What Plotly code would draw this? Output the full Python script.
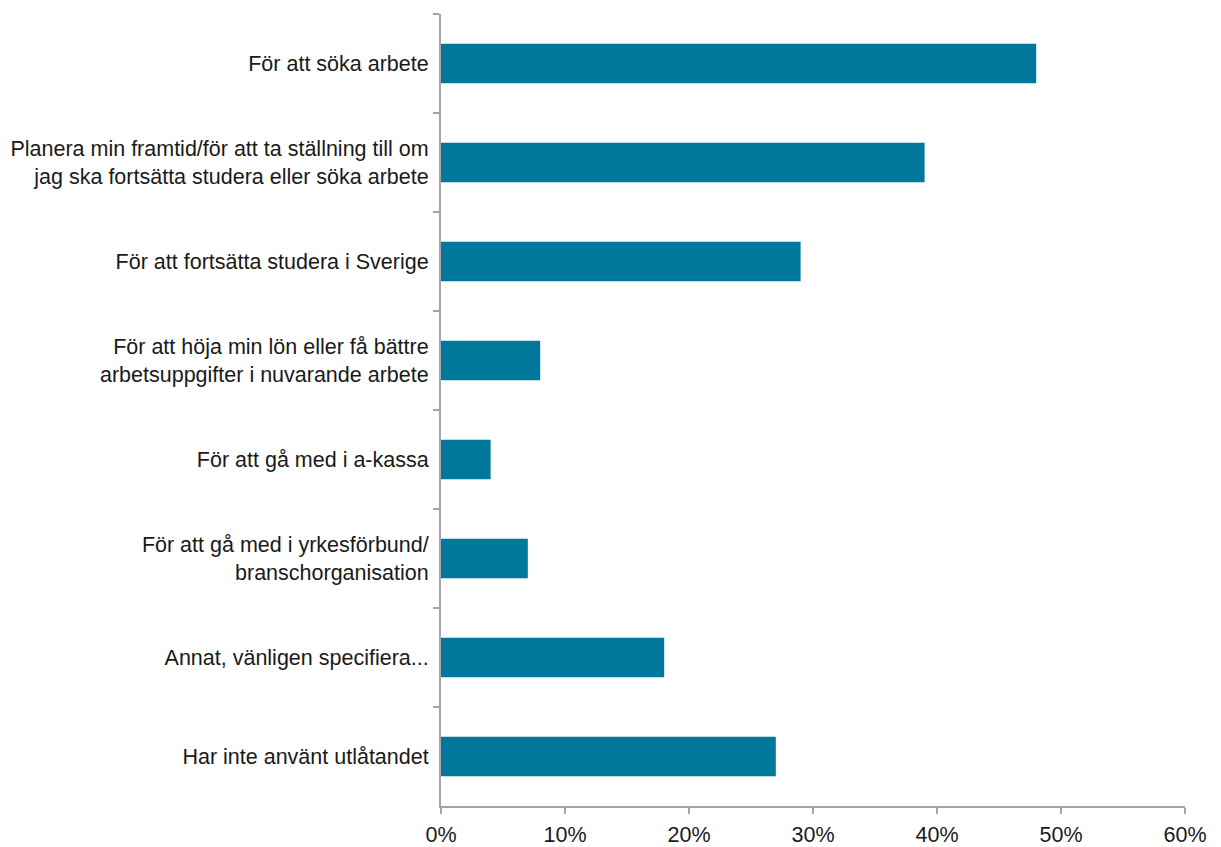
import plotly.graph_objects as go

categories = [
    "För att söka arbete",
    "Planera min framtid/för att ta ställning till om<br>jag ska fortsätta studera eller söka arbete",
    "För att fortsätta studera i Sverige",
    "För att höja min lön eller få bättre<br>arbetsuppgifter i nuvarande arbete",
    "För att gå med i a-kassa",
    "För att gå med i yrkesförbund/<br>branschorganisation",
    "Annat, vänligen specifiera...",
    "Har inte använt utlåtandet",
]
values = [48, 39, 29, 8, 4, 7, 18, 27]
x_ticks = [0, 10, 20, 30, 40, 50, 60]
x_tick_labels = [f"{v}%" for v in x_ticks]

axis_grey = "#a3a3ab"
font = dict(family="Liberation Sans, Arial, sans-serif", size=21.5, color="#1a1a1a")

fig = go.Figure(
    go.Bar(
        x=values,
        y=categories,
        orientation="h",
        marker=dict(color="#00779b", line=dict(width=0)),
        hoverinfo="x+y",
    )
)

fig.update_layout(
    width=1221,
    height=847,
    margin=dict(l=441, r=36, t=14, b=41, pad=0),
    paper_bgcolor="white",
    plot_bgcolor="white",
    font=font,
    bargap=0.6,
    showlegend=False,
)

fig.update_xaxes(
    range=[0, 60],
    tickvals=x_ticks,
    ticktext=x_tick_labels,
    ticks="outside",
    ticklen=6,
    tickwidth=2,
    tickcolor=axis_grey,
    showline=True,
    linecolor=axis_grey,
    linewidth=2,
    showgrid=False,
    zeroline=False,
    automargin=False,
    ticklabelstandoff=2,
)

fig.update_yaxes(
    type="category",
    autorange="reversed",
    tickson="boundaries",
    ticks="outside",
    ticklen=6,
    tickwidth=2,
    tickcolor=axis_grey,
    showline=True,
    linecolor=axis_grey,
    linewidth=2,
    showgrid=False,
    zeroline=False,
    automargin=False,
    ticklabelstandoff=6,
)

fig.write_html("out.html")
